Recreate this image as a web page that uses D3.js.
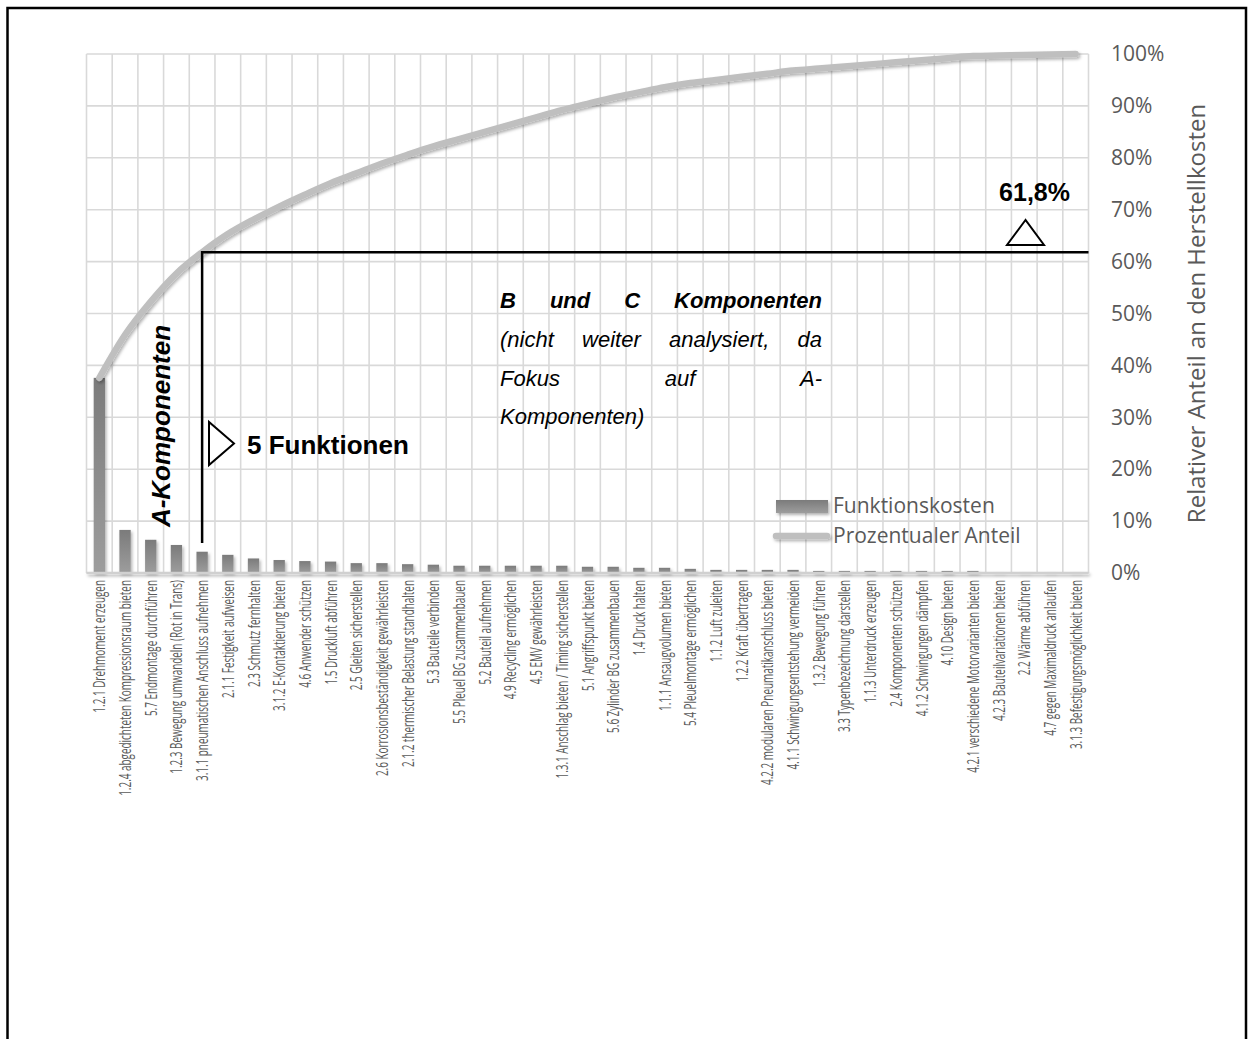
<!DOCTYPE html>
<html>
<head>
<meta charset="utf-8">
<script src="https://cdn.jsdelivr.net/npm/d3@7"></script>
<style>
  html, body { margin: 0; padding: 0; background: #ffffff; }
  svg { display: block; }
</style>
</head>
<body>
<svg id="chart" width="1249" height="1039"></svg>
<script>
// Functions, sorted by their share of the manufacturing costs
const categories = [
  "1.2.1 Drehmoment erzeugen",
  "1.2.4 abgedichteten Kompressionsraum bieten",
  "5.7 Endmontage durchführen",
  "1.2.3 Bewegung umwandeln (Rot in Trans)",
  "3.1.1 pneumatischen Anschluss aufnehmen",
  "2.1.1 Festigkeit aufweisen",
  "2.3 Schmutz fernhalten",
  "3.1.2 E-Kontaktierung bieten",
  "4.6 Anwender schützen",
  "1.5 Druckluft abführen",
  "2.5 Gleiten sicherstellen",
  "2.6 Korrosionsbeständigkeit gewährleisten",
  "2.1.2 thermischer Belastung standhalten",
  "5.3 Bauteile verbinden",
  "5.5 Pleuel BG zusammenbauen",
  "5.2 Bauteil aufnehmen",
  "4.9 Recycling ermöglichen",
  "4.5 EMV gewährleisten",
  "1.3.1 Anschlag bieten / Timing sicherstellen",
  "5.1 Angriffspunkt bieten",
  "5.6 Zylinder BG zusammenbauen",
  "1.4 Druck halten",
  "1.1.1 Ansaugvolumen bieten",
  "5.4 Pleuelmontage ermöglichen",
  "1.1.2 Luft zuleiten",
  "1.2.2 Kraft übertragen",
  "4.2.2 modularen Pneumatikanschluss bieten",
  "4.1.1 Schwingungsentstehung vermeiden",
  "1.3.2 Bewegung führen",
  "3.3 Typenbezeichnung darstellen",
  "1.1.3 Unterdruck erzeugen",
  "2.4 Komponenten schützen",
  "4.1.2 Schwingungen dämpfen",
  "4.10 Design bieten",
  "4.2.1 verschiedene Motorvarianten bieten",
  "4.2.3 Bauteilvariationen bieten",
  "2.2 Wärme abführen",
  "4.7 gegen Maximaldruck anlaufen",
  "3.1.3 Befestigungsmöglichkeit bieten"
];

// Function costs as a share of the manufacturing costs (%)
const costShare = [
  37.6, 8.3, 6.4, 5.4, 4.1,
  3.5, 2.8, 2.5, 2.3, 2.2,
  1.9, 1.9, 1.7, 1.6, 1.4, 1.4,
  1.4, 1.4, 1.4,
  1.2, 1.2, 1.0, 1.0, 0.8,
  0.6, 0.6, 0.6, 0.6,
  0.4, 0.4, 0.4, 0.4, 0.4, 0.4, 0.4,
  0.1, 0.1, 0.1, 0.1
];

const percentTicks = [0, 10, 20, 30, 40, 50, 60, 70, 80, 90, 100];

// A-component threshold
const aComponentCount = 5;
const aComponentShare = 61.8;

const seriesNames = ["Funktionskosten", "Prozentualer Anteil"];
const axisTitle = "Relativer Anteil an den Herstellkosten";
const aLabel = "A-Komponenten";
const bcLines = [
  { words: ["B", "und", "C", "Komponenten"], bold: true, justify: true },
  { words: ["(nicht", "weiter", "analysiert,", "da"], bold: false, justify: true },
  { words: ["Fokus", "auf", "A-"], bold: false, justify: true },
  { words: ["Komponenten)"], bold: false, justify: false }
];

// ---------------------------------------------------------------
const W = 1249, H = 1039;
const plot = { left: 86.5, right: 1088.5, top: 54, bottom: 573 };
const textGray = "#595959";
const chartFont = "'Open Sans', 'DejaVu Sans', sans-serif";
const annoFont = "'Liberation Sans', Arial, sans-serif";

const svg = d3.select("#chart");
const defs = svg.append("defs");

const grad = defs.append("linearGradient")
  .attr("id", "barFill").attr("x1", 0).attr("y1", 0).attr("x2", 0).attr("y2", 1);
grad.append("stop").attr("offset", "0%").attr("stop-color", "#7b7b7b");
grad.append("stop").attr("offset", "100%").attr("stop-color", "#9d9d9d");

// soft drop shadow (user-space region so thin horizontal strokes keep it)
const shadow = defs.append("filter").attr("id", "softShadow")
  .attr("filterUnits", "userSpaceOnUse")
  .attr("x", 0).attr("y", 0).attr("width", W).attr("height", H);
shadow.append("feDropShadow")
  .attr("dx", 1.5).attr("dy", 2).attr("stdDeviation", 1.6)
  .attr("flood-color", "#000").attr("flood-opacity", 0.3);

const xGrid = d3.scaleBand().domain(categories).range([plot.left, plot.right]).padding(0);
const x = d3.scaleBand().domain(categories).range([plot.left, plot.right])
  .paddingInner(0.56).paddingOuter(0.28);
const y = d3.scaleLinear().domain([0, 100]).range([plot.bottom, plot.top]);

const total = d3.sum(costShare);
const cumulative = Array.from(d3.cumsum(costShare), v => v / total * 100);
const cx = c => x(c) + x.bandwidth() / 2;

// Outer frame
svg.append("path")
  .attr("d", "M7.5,1045V8H1246V1045")
  .attr("fill", "none").attr("stroke", "#000").attr("stroke-width", 2.5);

// Gridlines
const grid = svg.append("g").attr("stroke", "#d9d9d9").attr("stroke-width", 1.6);
grid.selectAll("line.h").data(percentTicks).join("line")
  .attr("class", "h")
  .attr("x1", plot.left).attr("x2", plot.right)
  .attr("y1", d => y(d)).attr("y2", d => y(d));
const boundaries = categories.map(c => xGrid(c)).concat([plot.right]);
grid.selectAll("line.v").data(boundaries).join("line")
  .attr("class", "v")
  .attr("x1", d => d).attr("x2", d => d)
  .attr("y1", plot.top).attr("y2", plot.bottom);

// Bars
svg.append("g").selectAll("rect").data(costShare).join("rect")
  .attr("x", (d, i) => x(categories[i]))
  .attr("y", d => y(d))
  .attr("width", x.bandwidth())
  .attr("height", d => y(0) - y(d))
  .attr("fill", "url(#barFill)")
  .attr("filter", "url(#softShadow)");

// Category axis line
svg.append("line")
  .attr("x1", plot.left).attr("x2", plot.right)
  .attr("y1", y(0)).attr("y2", y(0))
  .attr("stroke", "#d0d0d0").attr("stroke-width", 2.6)
  .attr("filter", "url(#softShadow)");

// Category labels (condensed along the reading direction)
const xAxis = svg.append("g")
  .attr("transform", `translate(0,${plot.bottom})`)
  .call(d3.axisBottom(xGrid).tickSize(0).tickPadding(0));
xAxis.select(".domain").remove();
xAxis.selectAll("text")
  .attr("x", 0).attr("y", 0).attr("dy", null)
  .attr("text-anchor", "end")
  .attr("dominant-baseline", "central")
  .attr("transform", "translate(0,7) rotate(-90) scale(0.62,1)")
  .attr("fill", textGray)
  .style("font-family", chartFont)
  .style("font-size", "16px");

// Cumulative share line
const line = d3.line()
  .x((d, i) => cx(categories[i]))
  .y(d => y(d))
  .curve(d3.curveMonotoneX);
svg.append("path")
  .datum(cumulative)
  .attr("d", line)
  .attr("fill", "none")
  .attr("stroke", "#bfbfbf")
  .attr("stroke-width", 6.5)
  .attr("stroke-linecap", "round")
  .attr("filter", "url(#softShadow)");

// Right percentage axis
const yAxis = svg.append("g")
  .attr("transform", "translate(1111,0)")
  .call(d3.axisRight(y).tickValues(percentTicks).tickFormat(d => d + "%").tickSize(0).tickPadding(0));
yAxis.select(".domain").remove();
yAxis.selectAll("text")
  .attr("fill", textGray)
  .style("font-family", chartFont)
  .style("font-size", "21px");

svg.append("text")
  .attr("transform", `translate(1205,${(plot.top + plot.bottom) / 2}) rotate(-90)`)
  .attr("text-anchor", "middle")
  .attr("fill", textGray)
  .style("font-family", chartFont)
  .style("font-size", "24px")
  .text(axisTitle);

// Legend
const legend = svg.append("g");
legend.append("rect")
  .attr("x", 776).attr("y", 500).attr("width", 52).attr("height", 13)
  .attr("fill", "url(#barFill)").attr("filter", "url(#softShadow)");
legend.append("line")
  .attr("x1", 776).attr("x2", 827).attr("y1", 536).attr("y2", 536)
  .attr("stroke", "#bfbfbf").attr("stroke-width", 6.5).attr("stroke-linecap", "round")
  .attr("filter", "url(#softShadow)");
legend.selectAll("text").data(seriesNames).join("text")
  .attr("x", 833).attr("y", (d, i) => 513 + i * 30)
  .attr("fill", textGray)
  .style("font-family", chartFont)
  .style("font-size", "21px")
  .text(d => d);

// A-component threshold lines
const thrX = cx(categories[aComponentCount - 1]);
const thrY = y(aComponentShare);
const anno = svg.append("g");
anno.append("path")
  .attr("d", `M${thrX},543V${thrY}H${plot.right}`)
  .attr("fill", "none").attr("stroke", "#000").attr("stroke-width", 2.5);

// Markers
anno.append("path")
  .attr("d", "M209,422L209,465L234,443.5Z")
  .attr("fill", "#fff").attr("stroke", "#000").attr("stroke-width", 2);
anno.append("path")
  .attr("d", "M1025.5,220L1007,245L1044,245Z")
  .attr("fill", "#fff").attr("stroke", "#000").attr("stroke-width", 2);

anno.append("text")
  .attr("x", 247).attr("y", 454)
  .style("font-family", annoFont).style("font-weight", "bold").style("font-size", "26px")
  .text(`${aComponentCount} Funktionen`);

anno.append("text")
  .attr("x", 1070).attr("y", 201).attr("text-anchor", "end")
  .style("font-family", annoFont).style("font-weight", "bold").style("font-size", "25px")
  .text(d3.format(".1f")(aComponentShare).replace(".", ",") + "%");

anno.append("text")
  .attr("transform", "translate(170,426) rotate(-90)")
  .attr("text-anchor", "middle")
  .style("font-family", annoFont).style("font-weight", "bold")
  .style("font-style", "italic").style("font-size", "26px")
  .text(aLabel);

// Justified note block
const block = { left: 500, right: 822, baselines: [308, 347, 386, 424] };
bcLines.forEach((ln, li) => {
  const g = anno.append("g");
  const texts = ln.words.map(w => g.append("text")
    .attr("y", block.baselines[li])
    .style("font-family", annoFont)
    .style("font-style", "italic")
    .style("font-weight", ln.bold ? "bold" : "normal")
    .style("font-size", "22px")
    .text(w));
  const widths = texts.map(t => t.node().getComputedTextLength());
  const spaceW = 6;
  const gap = ln.justify && texts.length > 1
    ? (block.right - block.left - d3.sum(widths)) / (texts.length - 1)
    : spaceW;
  let pos = block.left;
  texts.forEach((t, i) => { t.attr("x", pos); pos += widths[i] + gap; });
});
</script>
</body>
</html>
